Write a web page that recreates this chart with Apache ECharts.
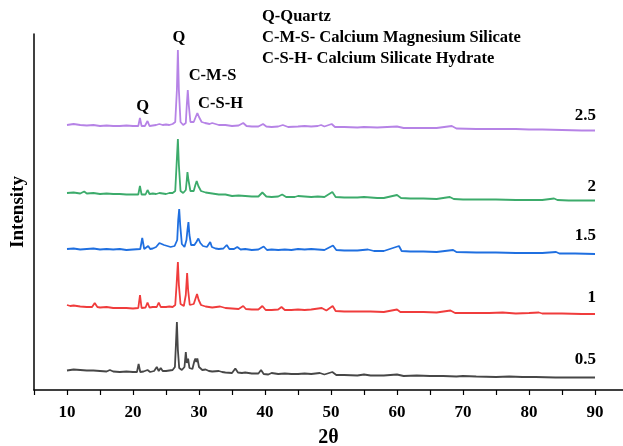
<!DOCTYPE html>
<html>
<head>
<meta charset="utf-8">
<script src="https://cdn.jsdelivr.net/npm/echarts@6/dist/echarts.min.js"></script>
<style>
html,body{margin:0;padding:0;background:#fff;}
#chart{width:623px;height:446px;}
</style>
</head>
<body>
<div id="chart"></div>
<script>
// XRD patterns, stacked (2θ, intensity in arbitrary plotted units)
var seriesNames = ['0.5', '1', '1.5', '2', '2.5'];
var seriesColors = ['#474747', '#f03c3c', '#1f6fe0', '#3cab6b', '#b683e6'];

var data05 = [[10,19.5],[11,20.5],[12,20],[13,19.5],[14,19.5],[15,19],[16,18.5],[16.5,20],[17,18.5],[18,18],[19,18.5],[20,18],[20.6,18],[20.85,26],[21.1,18],[21.6,18.5],[22.2,20],[22.6,18],[23.2,19],[23.6,23],[23.9,19],[24.2,22],[24.5,19],[25,19],[25.5,19.5],[26,20],[26.35,23],[26.5,45],[26.65,68],[26.8,40],[27.0,22],[27.4,20],[27.8,23],[28.0,38],[28.15,27],[28.35,31.5],[28.55,22],[29.0,21],[29.3,29],[29.45,31.5],[29.6,28],[29.75,31.5],[30.0,23],[30.5,20],[31,20.5],[31.5,19],[32,18.5],[33,19],[33.5,18],[34,17.5],[35,17],[35.5,21.5],[35.9,17.5],[36.5,17],[37,17.5],[38,16.5],[39,16.5],[39.4,20],[39.8,16],[40.5,15.5],[41,17],[42,16],[43,16.5],[44,16],[45,16],[46,16.5],[47,16],[48.3,17],[49,15.5],[50.2,18],[50.8,15],[52,15],[54,14.5],[55,15.5],[56,14.5],[58,14.5],[60,15.5],[61,14],[63,14.5],[65,14],[67,14],[69,13.5],[70,14],[72,13.5],[75,13],[77,13.5],[79,13],[81,13],[84,12.5],[87,12.5],[90,12.5]];

var data1 = [[10,85],[10.5,84],[11,84.5],[12,83.5],[13,83],[13.8,83],[14.2,87],[14.6,83],[15,82.5],[16,83],[17,82],[18,82],[19,82],[20,81.5],[20.8,82],[21.06,95],[21.3,82],[21.9,82.5],[22.2,87.5],[22.5,82.5],[23,83],[23.6,83],[23.9,87.5],[24.2,83],[25,83],[25.5,83.5],[26,83],[26.4,85],[26.6,105],[26.8,128],[26.95,105],[27.2,86],[27.7,84],[28.0,95],[28.2,117],[28.35,100],[28.6,85],[29.2,86],[29.5,92],[29.7,96],[29.95,90],[30.3,85],[30.6,86],[31,83.5],[32,82.5],[33.2,83.5],[34,82],[35,81.5],[36,81],[36.7,84],[37.1,81],[38,80.5],[39,80.5],[39.6,84],[40.1,80],[41,80],[42,80.5],[42.5,83],[43,80],[44,80],[45,80.5],[46,80],[47,80.5],[48.6,82],[49.3,79.5],[50.25,84],[50.7,79],[52,78.5],[54,78.5],[56,78.5],[58,78],[60,80.5],[60.5,78],[62,78],[64,78],[66,77.5],[68.1,79.5],[68.8,77],[71,77],[74,77],[76,77.5],[78,76.5],[80,77],[81.5,77.5],[82,76.5],[85,76.5],[88,76],[90,76]];

var data15 = [[10,141],[11,141.5],[12,140.5],[13,141],[14,141.5],[15,140.5],[16,141],[17,140.5],[18,141],[19,140],[20,140.5],[21.1,141],[21.4,152],[21.7,141],[22.0,141],[22.3,144],[22.6,141],[23,141.5],[23.5,143],[24,147],[24.3,148],[24.7,145],[25.2,144],[25.7,143],[26.3,144],[26.7,150],[26.85,170],[27.0,181],[27.15,165],[27.4,146],[27.8,143],[28.1,150],[28.25,160],[28.4,168],[28.55,155],[28.8,145],[29.3,145],[29.6,148],[29.9,151.5],[30.2,147],[30.6,144],[30.9,146],[31.2,143],[31.5,144],[31.7,148],[31.95,143],[32.5,141.5],[33,141],[33.7,141.5],[34.2,145],[34.6,141],[35.3,141],[35.8,143],[36.3,140.5],[37,141],[38,140],[39,140.5],[39.8,143.5],[40.3,140],[41,140.5],[42,140],[43,140.5],[44,140],[45,141],[46,140.5],[47,141],[48,140.5],[49,140],[50.3,144.5],[50.8,140],[52,139.5],[54,139.5],[55.6,140.5],[56.5,139],[58,139],[60.3,144],[60.7,139],[62,138.5],[64,138.5],[66,138],[68.5,140],[69,138],[72,137.5],[75,137.5],[78,137],[80,137],[82,137],[84.1,138],[84.6,136.5],[87,136.5],[90,136]];

var data2 = [[10,197],[11,197.5],[12,196.5],[12.6,198.5],[13,196.5],[14,197],[15,196],[16,196.5],[17,196],[18,196],[19,195.5],[20,195.5],[20.8,195.5],[21.05,204],[21.3,195.5],[21.9,195.5],[22.2,200],[22.5,196],[23,196.5],[23.5,196],[24,197],[24.5,196.5],[25,196],[25.5,197],[26,197],[26.4,199],[26.6,225],[26.8,251],[26.95,225],[27.2,199],[27.6,197],[28,200],[28.15,210],[28.25,218],[28.4,210],[28.7,199],[29.2,199],[29.45,205],[29.65,209],[29.9,204],[30.3,199],[31,197.5],[32,196.5],[33,195.5],[34,195.5],[35,194],[36,194.5],[37,194],[38,193.5],[39,193.5],[39.6,197.5],[40.2,193.5],[41,193],[42,193.5],[42.6,195.5],[43.2,193],[44.5,193],[45,194],[46,193.5],[47,193],[48,193.5],[49,193],[50.2,198],[50.7,193],[52,192.5],[54,192.5],[55,193],[57,192],[58,192],[60,195],[60.6,192],[62,191.5],[64,191.5],[66,191],[68,193],[68.6,191],[70,190.5],[72,190.5],[75,190.5],[78,190],[80,190],[82,190],[83.8,191.5],[84.3,190],[86,189.5],[88,189.5],[90,189.5]];

var data25 = [[10,265],[11,266],[12,265],[13,264.5],[14,265],[15,264],[16,264.5],[17,264],[18,264],[19,264.5],[20,264],[20.8,264],[21.05,272],[21.3,264],[21.8,264],[22.2,269],[22.5,264],[23,264.5],[23.5,265],[24,266],[24.5,265],[25,265.5],[25.5,265],[26,266],[26.4,268],[26.65,300],[26.8,340],[26.95,300],[27.2,268],[27.6,265],[28,267],[28.15,285],[28.3,300],[28.45,285],[28.7,268],[29.2,268],[29.5,273],[29.75,277],[30.0,273],[30.4,268],[30.9,267],[31.2,269],[31.6,266],[32,267],[32.5,266],[33,265],[34,265],[35,264],[36,264.5],[36.7,267],[37.2,264],[38,263.5],[39,263.5],[39.7,266],[40.2,263.5],[41,263],[42,263.5],[42.7,265],[43.5,263],[45,263.5],[46,264],[47,263.5],[48,264],[48.5,265],[49,263.5],[50.1,266],[50.6,263],[52,263],[54,262.5],[55,263],[57,262.5],[60,263.5],[61,262],[64,262],[66,262],[68.3,264],[69,261.5],[72,261],[75,261],[78,261],[80,260.5],[82,260.5],[85,260],[88,259.5],[90,259.5]];

var allData = [data05, data1, data15, data2, data25];

// where the curve names sit (2θ, intensity)
var nameAnchors = [[90, 30], [90, 92], [90, 154], [90, 203], [90, 274]];
// peak annotations
var peakLabels = ['Q', 'C-M-S', 'C-S-H', 'Q'];
var peakAnchors = [[26.97, 352], [32.05, 314], [33.26, 286], [21.47, 283]];
var legendLines = ['Q-Quartz', 'C-M-S- Calcium Magnesium Silicate', 'C-S-H- Calcium Silicate Hydrate'];

var FONT = '"Liberation Serif", "Times New Roman", serif';

var series = [];
for (var i = 0; i < allData.length; i++) {
	series.push({
		name: seriesNames[i],
		type: 'line',
		data: allData[i],
		showSymbol: false,
		symbol: 'none',
		lineStyle: { color: seriesColors[i], width: 1.8 },
		itemStyle: { color: seriesColors[i] },
		z: 2 + i
	});
}

var option = {
	animation: false,
	backgroundColor: '#fff',
	grid: { left: 34, top: 34, right: 0, height: 356, containLabel: false, outerBoundsMode: 'none' },
	xAxis: {
		type: 'value',
		min: 5,
		max: 94.24,
		interval: 5,
		name: '2θ',
		nameLocation: 'middle',
		nameGap: 38,
		nameTextStyle: { fontFamily: FONT, fontWeight: 'bold', fontSize: 20, color: '#000' },
		axisLine: { show: true, lineStyle: { color: '#000', width: 1.5 } },
		axisTick: { show: true, inside: false, length: 5, lineStyle: { color: '#000', width: 1.2 } },
		axisLabel: {
			fontFamily: FONT, fontWeight: 'bold', fontSize: 17, color: '#000', margin: 14,
			showMaxLabel: false,
			formatter: function(v){
				if (v % 10 === 0 && v >= 10 && v <= 90) return String(v);
				return '';
			}
		},
		splitLine: { show: false }
	},
	yAxis: {
		type: 'value',
		min: 0,
		max: 356,
		name: 'Intensity',
		nameLocation: 'middle',
		nameGap: 6,
		nameRotate: 90,
		nameTextStyle: { fontFamily: FONT, fontWeight: 'bold', fontSize: 19, color: '#000' },
		axisLine: { show: true, lineStyle: { color: '#000', width: 1.5 } },
		axisTick: { show: false },
		axisLabel: { show: false },
		splitLine: { show: false }
	},
	series: series
};

var myChart = echarts.init(document.getElementById('chart'));
myChart.setOption(option);

//文字标注
var graphics = [];
for (var k = 0; k < nameAnchors.length; k++) {
	var p = myChart.convertToPixel({ gridIndex: 0 }, nameAnchors[k]);
	graphics.push({
		type: 'text', x: p[0] + 1, y: p[1],
		style: { text: seriesNames[k], font: 'bold 17px ' + FONT, fill: '#000', align: 'right', verticalAlign: 'middle' }
	});
}
for (var m = 0; m < peakLabels.length; m++) {
	var q = myChart.convertToPixel({ gridIndex: 0 }, peakAnchors[m]);
	graphics.push({
		type: 'text', x: q[0], y: q[1],
		style: { text: peakLabels[m], font: 'bold 16.5px ' + FONT, fill: '#000', align: 'center', verticalAlign: 'middle' }
	});
}
for (var n = 0; n < legendLines.length; n++) {
	graphics.push({
		type: 'text', x: 262, y: 17 + n * 21,
		style: { text: legendLines[n], font: 'bold 16.5px ' + FONT, fill: '#000', align: 'left', verticalAlign: 'middle' }
	});
}
myChart.setOption({ graphic: graphics });
</script>
</body>
</html>
